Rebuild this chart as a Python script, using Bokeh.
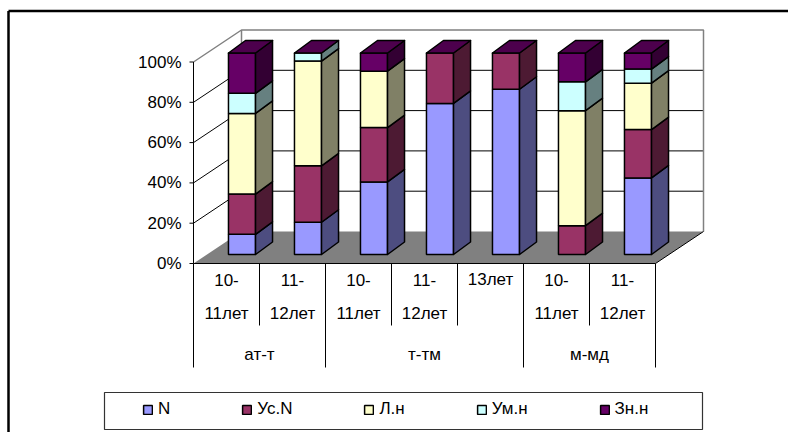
from bokeh.plotting import figure
from bokeh.models import Range1d, Legend, LegendItem
from bokeh.embed import file_html
from bokeh.resources import INLINE
from bokeh.core.properties import value

# ---- data ----
groups = ["ат-т", "т-тм", "м-мд"]
group_sizes = [2, 3, 2]
categories = ["10-\n11лет", "11-\n12лет", "10-\n11лет", "11-\n12лет",
              "13лет", "10-\n11лет", "11-\n12лет"]
series = ["N", "Ус.N", "Л.н", "Ум.н", "Зн.н"]
n_vals = [10, 16, 36, 75, 82, 0, 38]
usn_vals = [20, 28, 27, 25, 18, 14.3, 24]
lh_vals = [40, 52, 28, 0, 0, 57.1, 23]
umh_vals = [10, 4, 0, 0, 0, 14.3, 7]
znh_vals = [20, 0, 9, 0, 0, 14.3, 8]
y_ticks = [0, 20, 40, 60, 80, 100]

series_vals = [n_vals, usn_vals, lh_vals, umh_vals, znh_vals]
front_colors = ["#9999FF", "#993366", "#FFFFCC", "#CCFFFF", "#660066"]
side_colors = ["#4D4D80", "#4D1A33", "#808066", "#668080", "#330033"]
top_color = "#4D004D"

FONT = value("Liberation Sans")
FS = "17px"

# ---- canvas / projection ----
W, H = 788, 432
X0_PX, CAT_PX = 193.0, 66.0      # category axis origin and width of one category
Y0_PX, PCT_PX = 263.0, 2.015      # 0 % baseline and pixels per percent


def cx(px):
    return (px - X0_PX) / CAT_PX


def cy(py):
    return (Y0_PX - py) / PCT_PX


n_cat = len(categories)
WALL_DX, WALL_DY = 48 / CAT_PX, 32 / PCT_PX        # depth of the floor / side wall
BAR_W = 0.41
SHIFT_X, SHIFT_Y = 15.5 / CAT_PX, 9 / PCT_PX       # bar front face set back into the floor
BAR_DX, BAR_DY = 17 / CAT_PX, 12.5 / PCT_PX        # bar depth

p = figure(width=W, height=H, output_backend="svg", toolbar_location=None,
           x_range=Range1d(cx(0), cx(W)), y_range=Range1d(cy(H), cy(0)),
           x_axis_type=None, y_axis_type=None, min_border=0)
p.grid.visible = False
p.outline_line_color = None
p.background_fill_color = "white"
p.border_fill_color = "white"

# ---- walls ----
p.patch([0, WALL_DX, WALL_DX, 0], [0, WALL_DY, 100 + WALL_DY, 100],
        fill_color="white", line_color=None)
p.patch([WALL_DX, n_cat + WALL_DX, n_cat + WALL_DX, WALL_DX],
        [WALL_DY, WALL_DY, 100 + WALL_DY, 100 + WALL_DY],
        fill_color="white", line_color=None)

inner = [v for v in y_ticks if 0 < v < 100]
p.segment(x0=[0] * len(inner), y0=inner,
          x1=[WALL_DX] * len(inner), y1=[v + WALL_DY for v in inner],
          line_color="black", line_width=1)
p.segment(x0=[WALL_DX] * len(inner), y0=[v + WALL_DY for v in inner],
          x1=[n_cat + WALL_DX] * len(inner), y1=[v + WALL_DY for v in inner],
          line_color="black", line_width=1)

# wall border
p.line([0, WALL_DX, n_cat + WALL_DX, n_cat + WALL_DX],
       [100, 100 + WALL_DY, 100 + WALL_DY, WALL_DY],
       line_color="#808080", line_width=1.5)
p.line([WALL_DX, WALL_DX], [WALL_DY, 100 + WALL_DY],
       line_color="#808080", line_width=1.5)

# ---- floor ----
p.patch([0, n_cat, n_cat + WALL_DX, WALL_DX], [0, 0, WALL_DY, WALL_DY],
        fill_color="#808080", line_color=None)
p.line([0, n_cat, n_cat + WALL_DX], [0, 0, WALL_DY],
       line_color="black", line_width=1)

# ---- stacked 3D columns ----
front_renderers = []
base = [0.0] * n_cat
for s, vals in enumerate(series_vals):
    lefts, rights, bottoms, tops = [], [], [], []
    side_xs, side_ys = [], []
    for i, v in enumerate(vals):
        b = base[i]
        t = b + v
        base[i] = t
        if v <= 0:
            continue
        l = i + 0.5 - BAR_W / 2 + SHIFT_X
        r = i + 0.5 + BAR_W / 2 + SHIFT_X
        lefts.append(l)
        rights.append(r)
        bottoms.append(b + SHIFT_Y)
        tops.append(t + SHIFT_Y)
        side_xs.append([r, r + BAR_DX, r + BAR_DX, r])
        side_ys.append([b + SHIFT_Y, b + SHIFT_Y + BAR_DY,
                        t + SHIFT_Y + BAR_DY, t + SHIFT_Y])
    rend = p.quad(left=lefts, right=rights, bottom=bottoms, top=tops,
                  fill_color=front_colors[s], line_color="black", line_width=1.5)
    front_renderers.append(rend)
    p.patches(side_xs, side_ys, fill_color=side_colors[s],
              line_color="black", line_width=1.5, line_join="round")

# top faces at the top of each stack
top_xs, top_ys = [], []
for i in range(n_cat):
    l = i + 0.5 - BAR_W / 2 + SHIFT_X
    r = i + 0.5 + BAR_W / 2 + SHIFT_X
    t = base[i] + SHIFT_Y
    top_xs.append([l, r, r + BAR_DX, l + BAR_DX])
    top_ys.append([t, t, t + BAR_DY, t + BAR_DY])
p.patches(top_xs, top_ys, fill_color=top_color, line_color="black",
          line_width=1.5, line_join="round")

# ---- value axis ----
p.segment(x0=[0], y0=[0], x1=[0], y1=[100], line_color="black", line_width=1)
p.segment(x0=[cx(189)] * len(y_ticks), y0=y_ticks,
          x1=[0] * len(y_ticks), y1=y_ticks, line_color="black", line_width=1)
p.text(x=[cx(181)] * len(y_ticks), y=y_ticks,
       text=[f"{v}%" for v in y_ticks], text_align="right",
       text_baseline="middle", text_font=FONT, text_font_size=FS,
       text_color="black")

# ---- category axis (two levels) ----
line1 = [c.split("\n")[0] for c in categories]
line2 = [c.split("\n")[1] if "\n" in c else "" for c in categories]
centers = [i + 0.5 for i in range(n_cat)]
p.text(x=centers, y=[cy(279)] * n_cat, text=line1, text_align="center",
       text_baseline="middle", text_font=FONT, text_font_size=FS)
p.text(x=centers, y=[cy(313)] * n_cat, text=line2, text_align="center",
       text_baseline="middle", text_font=FONT, text_font_size=FS)

group_edges = [0]
for g in group_sizes:
    group_edges.append(group_edges[-1] + g)
inner_edges = [k for k in range(1, n_cat) if k not in group_edges]
p.segment(x0=inner_edges, y0=[0] * len(inner_edges),
          x1=inner_edges, y1=[cy(325)] * len(inner_edges),
          line_color="black", line_width=1)
p.segment(x0=group_edges, y0=[0] * len(group_edges),
          x1=group_edges, y1=[cy(367)] * len(group_edges),
          line_color="black", line_width=1)
group_centers = [(group_edges[k] + group_edges[k + 1]) / 2 for k in range(len(groups))]
p.text(x=group_centers, y=[cy(354)] * len(groups), text=groups,
       text_align="center", text_baseline="middle", text_font=FONT,
       text_font_size=FS)

# ---- legend ----
p.quad(left=[cx(104)], right=[cx(702)], bottom=[cy(429)], top=[cy(392)],
       fill_color="white", line_color="#333333", line_width=1.2)
legend = Legend(items=[LegendItem(label=s, renderers=[r])
                       for s, r in zip(series, front_renderers)],
                orientation="horizontal", spacing=71, glyph_width=11,
                glyph_height=11, label_standoff=5, label_width=5,
                padding=0, margin=0,
                label_text_font="Liberation Sans", label_text_font_size=FS,
                label_text_color="black",
                border_line_alpha=0, background_fill_alpha=0,
                location=(142, 13))
p.add_layout(legend)

# keep the right margin of the chart area blank
p.quad(left=[cx(780)], right=[cx(W + 5)], bottom=[cy(H + 5)], top=[cy(12)],
       fill_color="white", line_color=None)

# ---- chart border (left and top edges) ----
p.segment(x0=[cx(8), cx(8)], y0=[cy(H), cy(10.5)],
          x1=[cx(8), cx(W)], y1=[cy(10.5), cy(10.5)],
          line_color="black", line_width=2.5)

open("out.html", "w").write(file_html(p, INLINE))
